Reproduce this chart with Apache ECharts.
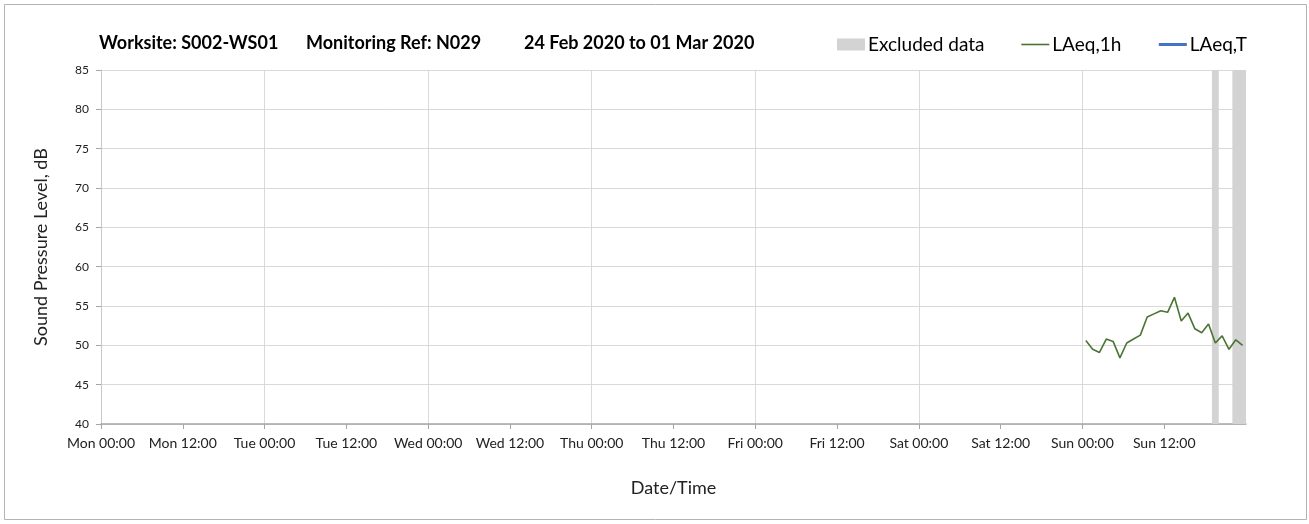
<!DOCTYPE html>
<html>
<head>
<meta charset="utf-8">
<script src="https://cdn.jsdelivr.net/npm/echarts@6/dist/echarts.min.js"></script>
<style>
  html, body { margin: 0; padding: 0; background: #ffffff; }
  #chart { width: 1309px; height: 524px; }
</style>
</head>
<body>
<div id="chart"></div>
<script>
// Monitoring week: Mon 24 Feb 2020 00:00 to Mon 02 Mar 2020 00:00
const weekStart = '2020-02-24T00:00Z';
const weekHours = 168;

// Axis tick labels every 12 hours
const xTickLabels = [
  'Mon 00:00', 'Mon 12:00', 'Tue 00:00', 'Tue 12:00', 'Wed 00:00', 'Wed 12:00',
  'Thu 00:00', 'Thu 12:00', 'Fri 00:00', 'Fri 12:00', 'Sat 00:00', 'Sat 12:00',
  'Sun 00:00', 'Sun 12:00', ''
];
const yTickLabels = [40, 45, 50, 55, 60, 65, 70, 75, 80, 85];

// Hourly LAeq,1h readings (plotted at mid-hour)
const laeqTimes = [
  '2020-03-01T00:30Z', '2020-03-01T01:30Z', '2020-03-01T02:30Z', '2020-03-01T03:30Z',
  '2020-03-01T04:30Z', '2020-03-01T05:30Z', '2020-03-01T06:30Z', '2020-03-01T07:30Z',
  '2020-03-01T08:30Z', '2020-03-01T09:30Z', '2020-03-01T10:30Z', '2020-03-01T11:30Z',
  '2020-03-01T12:30Z', '2020-03-01T13:30Z', '2020-03-01T14:30Z', '2020-03-01T15:30Z',
  '2020-03-01T16:30Z', '2020-03-01T17:30Z', '2020-03-01T18:30Z', '2020-03-01T19:30Z',
  '2020-03-01T20:30Z', '2020-03-01T21:30Z', '2020-03-01T22:30Z', '2020-03-01T23:30Z'
];
const laeq1h = [
  50.6, 49.5, 49.1, 50.8, 50.5, 48.4, 50.3, 50.8,
  51.3, 53.6, 54.0, 54.4, 54.2, 56.1, 53.1, 54.1,
  52.1, 51.6, 52.7, 50.3, 51.2, 49.5, 50.7, 50.0
];

// LAeq,T period values (none in this week)
const laeqT = [];

// Excluded periods [start, end]
const excludedStart = ['2020-03-01T19:00Z', '2020-03-01T22:00Z'];
const excludedEnd = ['2020-03-01T20:00Z', '2020-03-02T00:00Z'];

const t0 = Date.parse(weekStart);
const toHours = s => (Date.parse(s) - t0) / 3600000;

const lineData = laeqTimes.map((t, i) => [toHours(t), laeq1h[i]]);
const excludedData = excludedStart.map((s, i) => [toHours(s), toHours(excludedEnd[i])]);

const FONT = 'Lato, "Open Sans", sans-serif';
const yMin = yTickLabels[0];
const yMax = yTickLabels[yTickLabels.length - 1];
const titleFont = 'bold 18px ' + FONT;

const chart = echarts.init(document.getElementById('chart'), null, { renderer: 'canvas' });

chart.setOption({
  animation: false,
  backgroundColor: '#ffffff',
  textStyle: { fontFamily: FONT },
  graphic: [
    {
      type: 'rect', silent: true, z: -10,
      shape: { x: 4.5, y: 4.5, width: 1302, height: 515 },
      style: { fill: 'none', stroke: '#b3b3b3', lineWidth: 1 }
    },
    {
      type: 'text', left: 99, top: 34,
      style: { text: 'Worksite: S002-WS01', font: titleFont, fill: '#000' }
    },
    {
      type: 'text', left: 306, top: 34,
      style: { text: 'Monitoring Ref: N029', font: titleFont, fill: '#000' }
    },
    {
      type: 'text', left: 524, top: 34,
      style: { text: '24 Feb 2020 to 01 Mar 2020', font: titleFont, fill: '#000' }
    }
  ],
  legend: {
    left: 832, top: 30,
    itemWidth: 28, itemHeight: 12, itemGap: 36,
    selectedMode: false,
    textStyle: { fontFamily: FONT, fontSize: 19, color: '#000', padding: [0, 0, 0, -2] },
    data: [
      { name: 'Excluded data', icon: 'rect' },
      { name: 'LAeq,1h', itemStyle: { opacity: 0 }, lineStyle: { width: 1.6 } },
      { name: 'LAeq,T', itemStyle: { opacity: 0 }, lineStyle: { width: 3 } }
    ]
  },
  grid: { left: 101, right: 63, top: 70, bottom: 100 },
  xAxis: [
    {
      type: 'value', min: 0, max: weekHours, interval: 12,
      name: 'Date/Time', nameLocation: 'middle', nameGap: 55,
      nameTextStyle: { fontFamily: FONT, fontSize: 18, color: '#222' },
      axisLine: { show: true, lineStyle: { color: '#a6a6a6', width: 1.5 } },
      axisTick: { show: true, length: 5, lineStyle: { color: '#a6a6a6' } },
      axisLabel: {
        fontFamily: FONT, fontSize: 14, color: '#222', margin: 12,
        showMaxLabel: false,
        formatter: v => xTickLabels[Math.round(v / 12)] || ''
      },
      splitLine: { show: false }
    },
    {
      // daily vertical gridlines
      type: 'value', min: 0, max: weekHours, interval: 24, position: 'bottom',
      axisLine: { show: false }, axisTick: { show: false }, axisLabel: { show: false },
      splitLine: { show: true, showMinLine: false, showMaxLine: false,
                   lineStyle: { color: '#d9d9d9', width: 1 } }
    }
  ],
  yAxis: {
    type: 'value', min: yMin, max: yMax, interval: 5,
    name: 'Sound Pressure Level, dB', nameLocation: 'middle', nameGap: 51,
    nameTextStyle: { fontFamily: FONT, fontSize: 18, color: '#222' },
    axisLine: { show: true, lineStyle: { color: '#c8c8c8', width: 1 } },
    axisTick: { show: true, length: 5, lineStyle: { color: '#a6a6a6' } },
    axisLabel: { fontFamily: FONT, fontSize: 12, color: '#222', margin: 12 },
    splitLine: { show: true, lineStyle: { color: '#d9d9d9', width: 1 } }
  },
  series: [
    {
      name: 'Excluded data',
      type: 'custom',
      xAxisIndex: 0,
      itemStyle: { color: '#d3d3d3' },
      encode: { x: [0, 1] },
      z: 1,
      renderItem: (params, api) => {
        const p0 = api.coord([api.value(0), yMax]);
        const p1 = api.coord([api.value(1), yMin]);
        return {
          type: 'rect',
          shape: { x: p0[0], y: p0[1], width: p1[0] - p0[0], height: p1[1] - p0[1] },
          style: { fill: '#d3d3d3' }
        };
      },
      data: excludedData
    },
    {
      name: 'LAeq,1h',
      type: 'line',
      xAxisIndex: 0,
      symbol: 'none',
      z: 3,
      lineStyle: { color: '#4a7433', width: 1.6 },
      itemStyle: { color: '#4a7433' },
      data: lineData
    },
    {
      name: 'LAeq,T',
      type: 'line',
      xAxisIndex: 0,
      symbol: 'none',
      z: 3,
      lineStyle: { color: '#4472c4', width: 2.5 },
      itemStyle: { color: '#4472c4' },
      data: laeqT
    }
  ]
});
</script>
</body>
</html>
